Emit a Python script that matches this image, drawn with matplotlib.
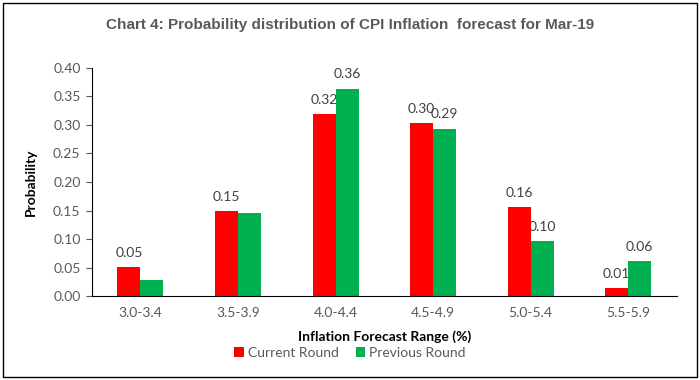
import matplotlib
matplotlib.use("Agg")
import matplotlib.pyplot as plt
import numpy as np
from matplotlib.patches import Rectangle

categories = ["3.0-3.4", "3.5-3.9", "4.0-4.4", "4.5-4.9", "5.0-5.4", "5.5-5.9"]
current_round = [0.051, 0.149, 0.319, 0.303, 0.156, 0.014]
previous_round = [0.029, 0.145, 0.363, 0.293, 0.096, 0.061]
current_labeled = [True, True, True, True, True, True]
previous_labeled = [False, False, True, True, True, True]
yticks = [0.00, 0.05, 0.10, 0.15, 0.20, 0.25, 0.30, 0.35, 0.40]

plt.rcParams['font.family'] = ['Lato', 'DejaVu Sans']
gray = '#595959'

fig = plt.figure(figsize=(7.0, 3.8), dpi=100)
ax = fig.add_axes([0.131, 0.2203, 0.836, 0.6017])

x = np.arange(len(categories))
w = 0.236
b2 = ax.bar(x + w / 2, previous_round, w, color='#00B050', label='Previous Round', zorder=2)
b1 = ax.bar(x - w / 2, current_round, w, color='#FF0000', label='Current Round', zorder=2)

for bars, vals, flags in ((b1, current_round, current_labeled), (b2, previous_round, previous_labeled)):
    for rect, v, f in zip(bars, vals, flags):
        if not f:
            continue
        ax.annotate(f"{v:.2f}", (rect.get_x() + rect.get_width() / 2, rect.get_height()),
                    xytext=(0, 6), textcoords='offset points', ha='center', va='bottom',
                    fontsize=10, color='#404040', zorder=1)

ax.set_xlim(-0.5, len(categories) - 0.5)
ax.set_ylim(0, 0.40)
ax.set_yticks(yticks)
ax.set_yticklabels([f"{t:.2f}" for t in yticks])
ax.set_xticks(x)
ax.set_xticklabels(categories)
ax.tick_params(axis='y', colors=gray, labelsize=10, length=4, width=0.8, pad=4)
ax.tick_params(axis='x', colors=gray, labelsize=10, length=0, pad=8)
for lbl in ax.get_yticklabels() + ax.get_xticklabels():
    lbl.set_color(gray)
ax.spines['top'].set_visible(False)
ax.spines['right'].set_visible(False)
ax.spines['left'].set_color('black')
ax.spines['bottom'].set_color('black')

ax.set_ylabel('Probability', fontsize=10, fontweight='bold', color='black', labelpad=12)
ax.set_xlabel('Inflation Forecast Range (%)', fontsize=10, fontweight='bold', color='black', labelpad=8)

fig.legend(handles=[b1, b2], labels=['Current Round', 'Previous Round'],
           loc='center', bbox_to_anchor=(0.5, 0.071), ncol=2, frameon=False,
           fontsize=10, handlelength=0.7, handleheight=0.7, handletextpad=0.3,
           columnspacing=1.2, labelcolor=gray)

fig.text(0.5, 0.935, 'Chart 4: Probability distribution of CPI Inflation  forecast for Mar-19',
         ha='center', va='center', fontsize=11, fontweight='bold', color=gray,
         family=['Liberation Sans', 'DejaVu Sans'])

fig.patches.append(Rectangle((0.004, 0.008), 0.992, 0.984, transform=fig.transFigure,
                             fill=False, edgecolor='black', linewidth=1.0))

fig.savefig('out.png', dpi=100)
